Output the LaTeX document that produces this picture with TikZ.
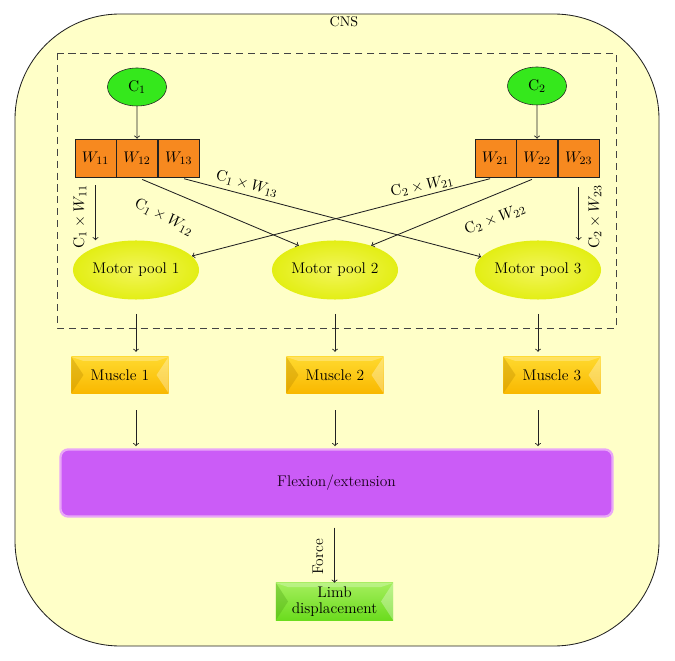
\documentclass[tikz,border=0pt]{standalone}
\usepackage{xcolor}
\definecolor{cnsfill}{HTML}{FFFFC8}
\definecolor{cgreen}{HTML}{35E81C}
\definecolor{worange}{HTML}{F7891F}
\definecolor{poolyellow}{HTML}{E3EE14}
\definecolor{poollight}{HTML}{F2F55A}
\definecolor{musclegold}{HTML}{F9B800}
\definecolor{musclelight}{HTML}{FFD92E}
\definecolor{flexviolet}{HTML}{CB5CF7}
\definecolor{flexedge}{HTML}{E9A6F7}
\definecolor{limbgreen}{HTML}{6BDC1E}
\definecolor{limblight}{HTML}{A4EE5C}
\definecolor{linegray}{HTML}{222222}
\usepackage{amsmath}
\usepackage{tikz}
\usetikzlibrary{shapes,arrows,positioning,calc}
\tikzset{
  cnsframe/.style={draw=linegray, fill=cnsfill, rounded corners=2.625cm, line width=0.6pt},
  dashframe/.style={draw=linegray!85, dashed, dash pattern=on 5pt off 3.5pt, line width=0.6pt},
  cbox/.style={ellipse, draw=linegray, fill=cgreen, minimum width=1.475cm,
               minimum height=0.95cm, inner sep=0pt, font=\fontsize{11}{13}\selectfont},
  wbox/.style={rectangle, draw=linegray, fill=worange, minimum width=1.025cm,
               minimum height=0.95cm, inner sep=0pt, font=\fontsize{11}{13}\selectfont},
  pool/.style={ellipse, inner color=poollight, outer color=poolyellow, minimum width=3.15cm,
               minimum height=1.475cm, inner sep=0pt, font=\fontsize{11}{13}\selectfont},
  bevel/.style={path picture={
      \fill[#1!75!black, opacity=0.35] (path picture bounding box.north west)
        -- ([xshift=0.3cm]path picture bounding box.west) -- (path picture bounding box.south west) -- cycle;
      \fill[white, opacity=0.3] (path picture bounding box.north east)
        -- ([xshift=-0.3cm]path picture bounding box.east) -- (path picture bounding box.south east) -- cycle;
      \fill[white, opacity=0.25] (path picture bounding box.north west) -- (path picture bounding box.north east)
        -- ([xshift=-0.3cm, yshift=-0.1cm]path picture bounding box.north east)
        -- ([xshift=0.3cm, yshift=-0.1cm]path picture bounding box.north west) -- cycle;}},
  mbox/.style={rectangle, top color=musclelight, bottom color=musclegold, bevel=musclegold,
               minimum width=2.425cm, minimum height=0.9cm, inner sep=0pt,
               font=\fontsize{11}{13}\selectfont},
  fbox/.style={rectangle, rounded corners=0.2cm, draw=flexedge, line width=1.6pt, fill=flexviolet,
               minimum width=13.8cm, minimum height=1.68cm, text=black!80!violet,
               font=\fontsize{11}{13}\selectfont},
  lbox/.style={rectangle, top color=limblight, bottom color=limbgreen, bevel=limbgreen,
               minimum width=2.925cm, minimum height=0.925cm, inner sep=0pt, align=center,
               font=\fontsize{11}{11.5}\selectfont},
  tarr/.style={->, >=to, line width=0.6pt, color=linegray},
  tlab/.style={font=\fontsize{11}{13}\selectfont, inner sep=0pt},
}

\begin{document}
\begin{tikzpicture}[x=0.025cm, y=-0.025cm]
  \useasboundingbox[fill=white] (0,0) rectangle (675,661);

  % CNS frame
  \draw[cnsframe] (15,14) rectangle (659,646);
  \node[font=\fontsize{10}{12}\selectfont] (cns) at (344,22) {CNS};
  \draw[dashframe] (57,53) rectangle (616,328);

  % Inputs
  \node[cbox] (c1) at (137,87) {$\mathrm{C}_1$};
  \node[cbox] (c2) at (537,86) {$\mathrm{C}_2$};

  % Weights
  \node[wbox] (w11) at (95.5,158) {$W_{11}$};
  \node[wbox, right=0pt of w11] (w12) {$W_{12}$};
  \node[wbox, right=0pt of w12] (w13) {$W_{13}$};
  \node[wbox] (w21) at (495.5,158) {$W_{21}$};
  \node[wbox, right=0pt of w21] (w22) {$W_{22}$};
  \node[wbox, right=0pt of w22] (w23) {$W_{23}$};

  % Motor pools
  \node[pool] (mp1) at (136,270) {Motor pool 1};
  \node[pool] (mp2) at (335,270) {Motor pool 2};
  \node[pool] (mp3) at (538,270) {Motor pool 3};

  % Muscles
  \node[mbox] (m1) at (120,375) {Muscle 1};
  \node[mbox] (m2) at (335,375) {Muscle 2};
  \node[mbox] (m3) at (552,375) {Muscle 3};

  % Output
  \node[fbox] (flex) at (336.5,483) {Flexion/extension};
  \node[lbox] (limb) at (334.5,601.5) {Limb\\displacement};

  % Input arrows
  \draw[tarr] (c1) -- (w12);
  \draw[tarr] (c2) -- (w22);

  % Weighted arrows
  \draw[tarr, shorten <=5.7pt] (w11.south) -- (w11.south |- mp1.north);
  \draw[tarr, shorten <=4pt] (w12.south) -- (mp2.146);
  \draw[tarr, shorten <=4pt] (w13.south) -- (mp3.167);
  \draw[tarr, shorten <=4pt] (w21.south) -- (mp1.14);
  \draw[tarr, shorten <=4pt] (w22.south) -- (mp2.34);
  \draw[tarr, shorten <=7pt] (w23.south) -- (w23.south |- mp3.north);

  % Pool to muscle arrows
  \draw[tarr, shorten <=10pt, shorten >=3.5pt] (mp1.south) -- (mp1.south |- m1.north);
  \draw[tarr, shorten <=10pt, shorten >=3.5pt] (mp2.south) -- (mp2.south |- m2.north);
  \draw[tarr, shorten <=10pt, shorten >=3.5pt] (mp3.south) -- (mp3.south |- m3.north);

  % Muscle to flexion arrows
  \draw[tarr, shorten <=12pt, shorten >=1.5pt] (mp1.south |- m1.south) -- (mp1.south |- flex.north);
  \draw[tarr, shorten <=12pt, shorten >=1.5pt] (mp2.south |- m2.south) -- (mp2.south |- flex.north);
  \draw[tarr, shorten <=12pt, shorten >=1.5pt] (mp3.south |- m3.south) -- (mp3.south |- flex.north);

  % Force
  \draw[tarr, shorten <=7pt] (limb.north |- flex.south) -- (limb.north);

  % Labels
  \node[tlab, rotate=90]  (l11) at (80,217)  {$\mathrm{C}_1\times W_{11}$};
  \node[tlab, rotate=-27] (l12) at (164,217) {$\mathrm{C}_1\times W_{12}$};
  \node[tlab, rotate=-15] (l13) at (247,184) {$\mathrm{C}_1\times W_{13}$};
  \node[tlab, rotate=12]  (l21) at (422,186) {$\mathrm{C}_2\times W_{21}$};
  \node[tlab, rotate=21]  (l22) at (495,219) {$\mathrm{C}_2\times W_{22}$};
  \node[tlab, rotate=90]  (l23) at (595,217) {$\mathrm{C}_2\times W_{23}$};
  \node[tlab, rotate=90]  (force) at (318,557) {Force};
\end{tikzpicture}
\end{document}
